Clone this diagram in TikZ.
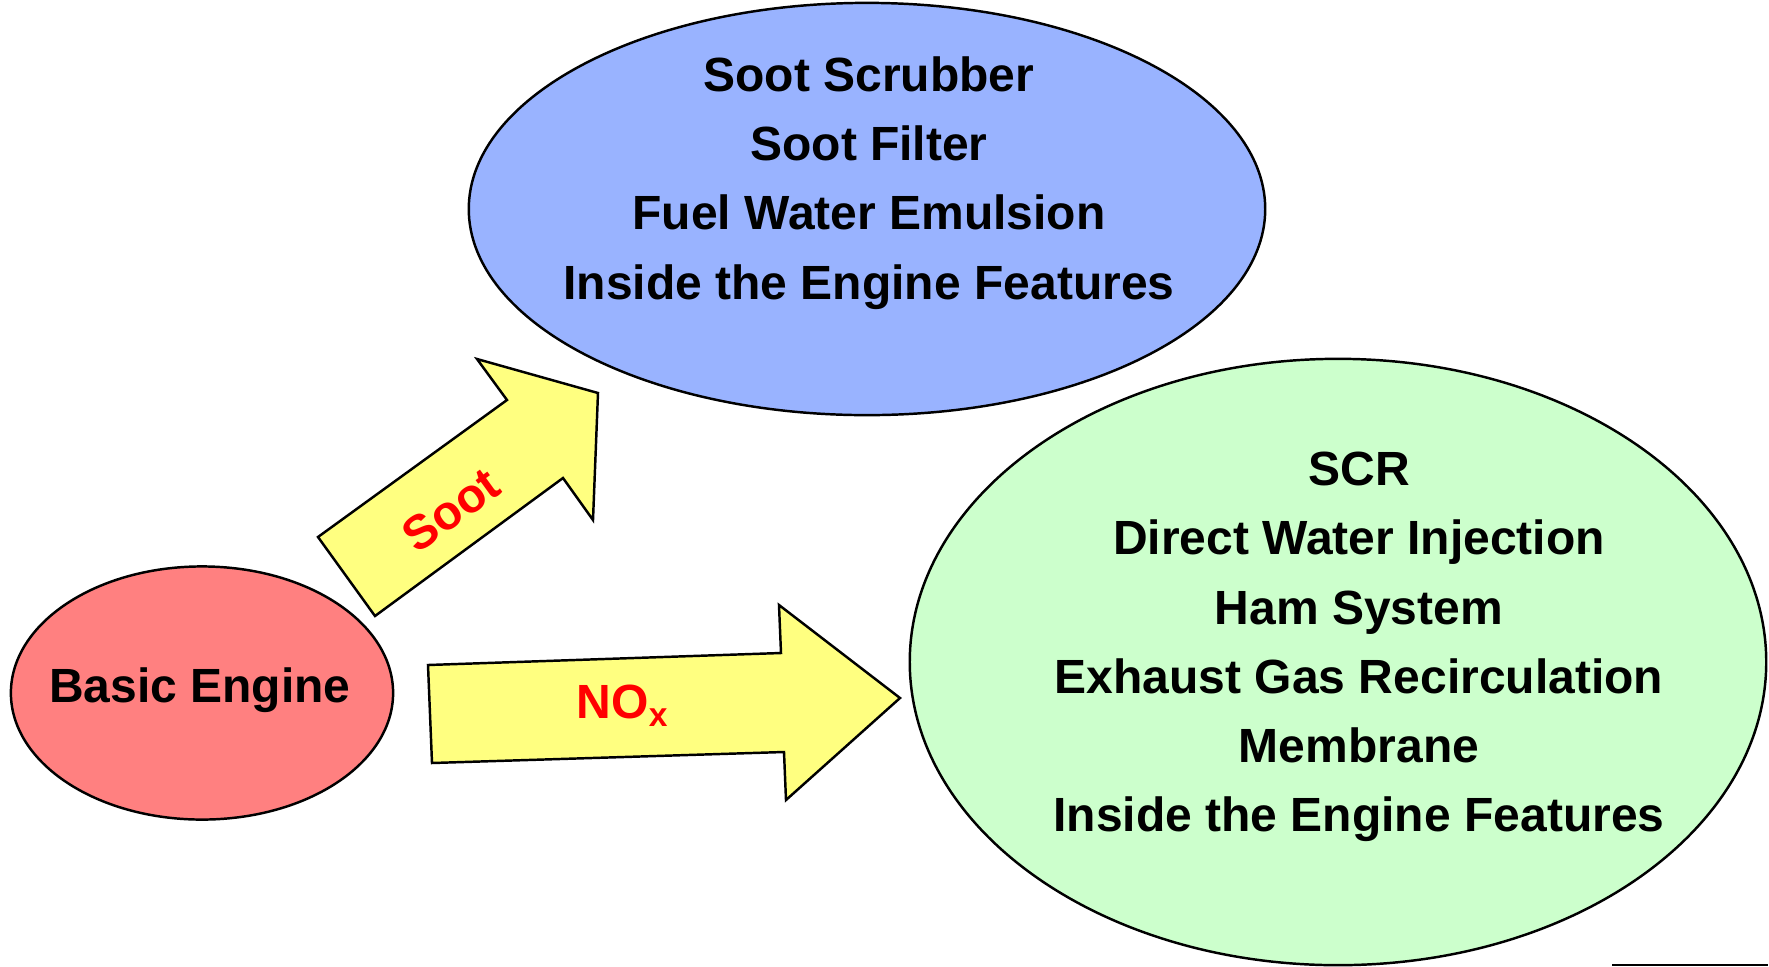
\documentclass[tikz,border=0pt]{standalone}
\usepackage{fontspec}
\setmainfont{Liberation Sans}
\usetikzlibrary{shapes.geometric}
\definecolor{blueE}{RGB}{153,179,255}
\definecolor{greenE}{RGB}{204,255,204}
\definecolor{redE}{RGB}{255,128,128}
\definecolor{yellowA}{RGB}{255,255,128}
\definecolor{redT}{RGB}{255,0,0}
\tikzset{
  oval/.style={draw=black, line width=0.7pt, ellipse, inner sep=0pt},
  blockarrow/.style={draw=black, line width=0.7pt, fill=yellowA, line join=miter},
  maintext/.style={font=\fontsize{13.65}{19.7}\selectfont\bfseries, align=center, text=black},
  redtext/.style={font=\fontsize{13.65}{15}\selectfont\bfseries, text=redT},
}
\begin{document}
\begin{tikzpicture}[x=0.01cm, y=-0.01cm]
\useasboundingbox (0,0) rectangle (1769,966);
% ellipses
\node[oval, fill=blueE, minimum width=7.96cm, minimum height=4.12cm] (soot) at (867,209) {};
\node[oval, fill=greenE, minimum width=8.56cm, minimum height=6.06cm] (nox) at (1338,662) {};
\node[oval, fill=redE, minimum width=3.82cm, minimum height=2.53cm] (engine) at (202,693) {};
% texts
\node[maintext] (sootlist) at (869,183) {Soot Scrubber\\Soot Filter\\Fuel Water Emulsion\\Inside the Engine Features};
\node[maintext] (noxlist) at (1359,647) {SCR\\Direct Water Injection\\Ham System\\Exhaust Gas Recirculation\\Membrane\\Inside the Engine Features};
\node[maintext] (enginetext) at (200,690) {Basic Engine};
% arrows
\draw[blockarrow] (318,537) -- (507,400) -- (477,359) -- (598,393) -- (593,520) -- (563,478) -- (375,616) -- cycle;
\node[redtext, rotate=36] (sootlabel) at (451,510) {Soot};
\draw[blockarrow] (428,665) -- (781,653) -- (779,605) -- (900,698) -- (786,800) -- (784,752) -- (432,763) -- cycle;
\node[redtext] (noxlabel) at (623,706) {NO\textsubscript{x}};
% bottom line
\coordinate (l1) at (1612,965);
\coordinate (l2) at (1768,965);
\draw[line width=0.7pt] (l1) -- (l2);
\end{tikzpicture}
\end{document}
